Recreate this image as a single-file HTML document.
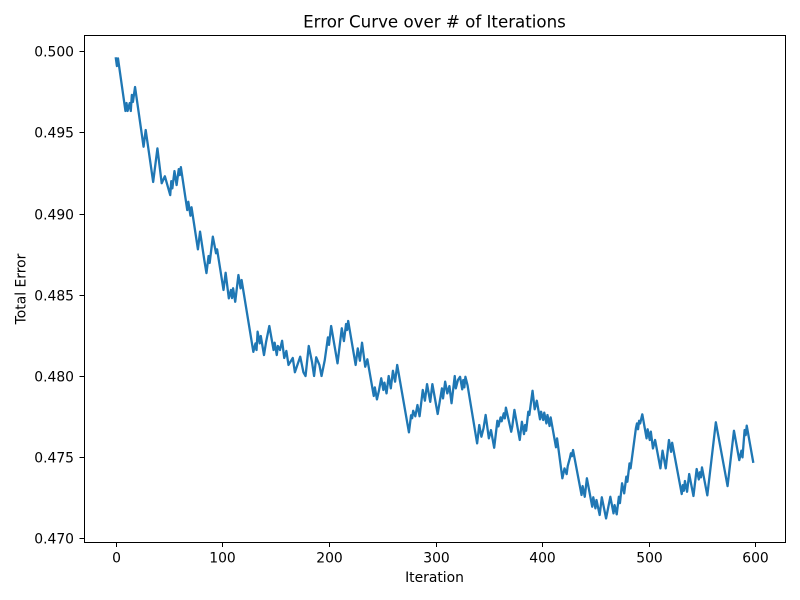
<!DOCTYPE html>
<html lang="en">
<head>
<meta charset="utf-8">
<title>Error Curve over # of Iterations</title>
<style>
  html, body { margin: 0; padding: 0; background: #fff; }
  svg { display: block; }
  text { font-family: "DejaVu Sans", "Liberation Sans", sans-serif; fill: #000; }
</style>
</head>
<body>
<svg id="chart" width="800" height="600" viewBox="0 0 800 600" xmlns="http://www.w3.org/2000/svg">
  <rect x="0" y="0" width="800" height="600" fill="#ffffff"></rect>
  <rect x="84.5" y="35.5" width="701" height="507" fill="#ffffff"></rect>
  <g id="series"></g>
  <g id="x-axis"></g>
  <g id="y-axis"></g>
  <rect x="84.5" y="35.5" width="701" height="507" fill="none" stroke="#000" stroke-width="1" shape-rendering="crispEdges"></rect>
  <text x="434.5" y="27.5" font-size="16.67" text-anchor="middle">Error Curve over # of Iterations</text>
  <text x="434.5" y="582" font-size="13.89" text-anchor="middle">Iteration</text>
  <text transform="translate(25.5 289) rotate(-90)" font-size="13.89" text-anchor="middle">Total Error</text>
</svg>
<script>
const iterations = [0,1,2,9,10,11,13,14,15,16,18,26,28,35,39,43,46,51,52,53,55,57,59,60,61,67,68,70,71,77,79,83,85,87,88,91,94,95,101,103,106,108,109,110,112,115,117,118,129,131,132,133,135,136,139,141,144,148,149,151,152,154,156,158,160,162,166,168,173,176,178,181,184,186,188,191,193,196,199,200,202,208,212,214,216,217,218,225,227,229,231,234,236,242,243,245,247,249,251,252,254,256,258,260,262,264,275,277,278,279,281,283,285,288,290,292,295,297,302,306,307,309,311,313,315,318,319,321,323,325,326,327,328,330,339,341,343,345,347,350,352,355,358,359,361,362,364,365,366,371,372,374,379,381,383,384,385,387,388,391,393,395,398,399,401,402,404,405,407,408,413,414,419,421,423,424,426,427,428,429,437,438,440,442,447,448,450,451,454,456,460,464,467,468,470,472,473,475,477,479,480,482,483,488,489,490,491,492,494,498,499,501,502,504,506,511,513,516,519,521,522,531,532,533,534,536,538,542,545,547,548,549,550,555,563,574,580,585,587,588,590,591,592,598];
const totalError = [0.49956,0.49909,0.49956,0.49632,0.49681,0.49632,0.49681,0.49632,0.49731,0.49688,0.4978,0.49412,0.49515,0.49195,0.49402,0.49187,0.4923,0.49114,0.492,0.49156,0.49262,0.49176,0.49274,0.49237,0.49286,0.49022,0.49073,0.48987,0.49039,0.4878,0.48889,0.48714,0.48634,0.48739,0.48696,0.48858,0.48756,0.4878,0.4853,0.48636,0.48478,0.4853,0.4848,0.4854,0.48457,0.48622,0.4854,0.48591,0.48149,0.48201,0.4816,0.48273,0.48201,0.48246,0.48129,0.48211,0.48308,0.4816,0.48205,0.48129,0.48185,0.4816,0.48217,0.48111,0.48154,0.48068,0.48111,0.48023,0.48119,0.48023,0.48,0.48185,0.48088,0.48,0.48115,0.48068,0.48,0.48097,0.48238,0.48192,0.48308,0.48078,0.48294,0.48215,0.4832,0.48283,0.48339,0.48068,0.4817,0.48094,0.48205,0.48057,0.48103,0.47877,0.4793,0.47856,0.47914,0.47986,0.47914,0.47959,0.47893,0.48,0.47924,0.48032,0.47965,0.48068,0.47653,0.47758,0.4774,0.47786,0.47752,0.47821,0.47752,0.47914,0.47848,0.4795,0.47841,0.4795,0.47766,0.47924,0.47862,0.47965,0.47893,0.47938,0.47832,0.48,0.47924,0.47975,0.47995,0.47918,0.47975,0.4793,0.47995,0.47943,0.47585,0.47698,0.47626,0.47678,0.4776,0.47616,0.47667,0.47558,0.47724,0.4769,0.47745,0.47721,0.4777,0.47739,0.47805,0.47657,0.4769,0.47791,0.47606,0.47718,0.47642,0.47698,0.47663,0.4778,0.4776,0.47909,0.47795,0.47848,0.47733,0.4778,0.47729,0.47774,0.47708,0.4776,0.47692,0.47745,0.47561,0.47616,0.4737,0.47431,0.47396,0.47445,0.47494,0.47524,0.47506,0.47544,0.47267,0.47322,0.47256,0.4737,0.47195,0.47253,0.47185,0.47236,0.47144,0.47253,0.47123,0.47256,0.47154,0.47205,0.47148,0.47256,0.47217,0.47339,0.47277,0.4738,0.47349,0.47462,0.47431,0.47678,0.47708,0.47672,0.47724,0.47708,0.47764,0.47616,0.47672,0.47606,0.47657,0.47554,0.47606,0.47431,0.4754,0.47431,0.47606,0.47533,0.47589,0.47273,0.47328,0.47293,0.47353,0.47287,0.47396,0.47261,0.47427,0.47363,0.47407,0.47376,0.47437,0.47265,0.47715,0.47322,0.47663,0.47482,0.4754,0.47499,0.47667,0.47636,0.47694,0.47472];
const xTickLabels = ["0", "100", "200", "300", "400", "500", "600"];
const yTickLabels = ["0.470", "0.475", "0.480", "0.485", "0.490", "0.495", "0.500"];

const NS = "http://www.w3.org/2000/svg";
const plotLeft = 84, plotRight = 785, plotTop = 35.4, plotBottom = 541.4;
const iterMin = Math.min(...iterations), iterMax = Math.max(...iterations);
const errMin = Math.min(...totalError), errMax = Math.max(...totalError);
const iterPad = (iterMax - iterMin) * 0.05, errPad = (errMax - errMin) * 0.05;

function xScale(v) {
  return plotLeft + (v - (iterMin - iterPad)) / (iterMax - iterMin + 2 * iterPad) * (plotRight - plotLeft);
}
function yScale(v) {
  return plotBottom - (v - (errMin - errPad)) / (errMax - errMin + 2 * errPad) * (plotBottom - plotTop);
}

const seriesGroup = document.getElementById("series");
const line = document.createElementNS(NS, "polyline");


line.setAttribute("points", iterations.map((it, k) => xScale(it).toFixed(2) + "," + yScale(totalError[k]).toFixed(2)).join(" "));
line.setAttribute("fill", "none");
line.setAttribute("stroke", "#1f77b4");
line.setAttribute("stroke-width", "2.3");
line.setAttribute("stroke-linejoin", "round");
line.setAttribute("stroke-linecap", "square");
seriesGroup.appendChild(line);

const xAxis = document.getElementById("x-axis");
xTickLabels.forEach(function (label) {
  const px = Math.round(xScale(Number(label))) + 0.5;
  const tick = document.createElementNS(NS, "line");
  
  
  tick.setAttribute("x1", px);
  tick.setAttribute("x2", px);
  tick.setAttribute("y1", 542.5);
  tick.setAttribute("y2", 547);
  tick.setAttribute("stroke", "#000");
  tick.setAttribute("shape-rendering", "crispEdges");
  xAxis.appendChild(tick);
  const text = document.createElementNS(NS, "text");
  
  
  text.setAttribute("x", px);
  text.setAttribute("y", 562.3);
  text.setAttribute("font-size", "13.89");
  text.setAttribute("text-anchor", "middle");
  text.textContent = label;
  xAxis.appendChild(text);
});

const yAxis = document.getElementById("y-axis");
yTickLabels.forEach(function (label) {
  const py = Math.round(yScale(Number(label))) + 0.5;
  const tick = document.createElementNS(NS, "line");
  
  
  tick.setAttribute("x1", plotLeft - 4.5);
  tick.setAttribute("x2", plotLeft + 0.5);
  tick.setAttribute("y1", py);
  tick.setAttribute("y2", py);
  tick.setAttribute("stroke", "#000");
  tick.setAttribute("shape-rendering", "crispEdges");
  yAxis.appendChild(tick);
  const text = document.createElementNS(NS, "text");
  
  
  text.setAttribute("x", plotLeft - 10);
  text.setAttribute("y", py + 4.8);
  text.setAttribute("font-size", "13.89");
  text.setAttribute("text-anchor", "end");
  text.textContent = label;
  yAxis.appendChild(text);
});
</script>
</body>
</html>
